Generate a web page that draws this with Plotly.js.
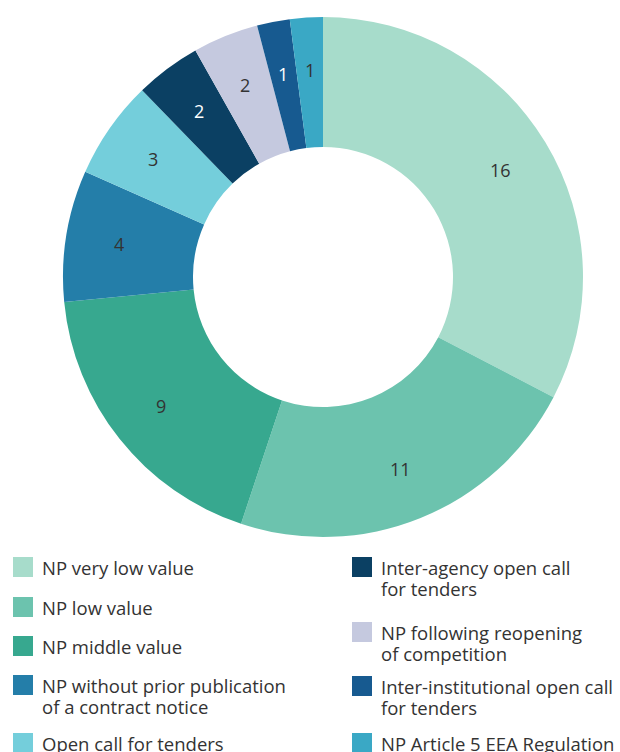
<!DOCTYPE html>
<html>
<head>
<meta charset="utf-8">
<script src="https://cdn.plot.ly/plotly-3.0.1.min.js"></script>
<style>html,body{margin:0;padding:0;background:#fff;}#chart{width:620px;height:752px;}</style>
</head>
<body>
<div id="chart"></div>
<script>
// ---- data ----
const labels = [
  "NP very low value",
  "NP low value",
  "NP middle value",
  "NP without prior publication<br>of a contract notice",
  "Open call for tenders",
  "Inter-agency open call<br>for tenders",
  "NP following reopening<br>of competition",
  "Inter-institutional open call<br>for tenders",
  "NP Article 5 EEA Regulation"
];
const values = [16, 11, 9, 4, 3, 2, 2, 1, 1];
const colors = ["#a7dccb", "#6cc3ae", "#37a88f", "#247ea9", "#74cedb", "#0b4063", "#c5c9df", "#175a90", "#3aa8c5"];
const textColors = ["#333333", "#333333", "#333333", "#333333", "#333333", "#ffffff", "#333333", "#ffffff", "#333333"];

// ---- layout constants ----
const W = 620, H = 752;
const cx = 323, cy = 277, r = 260, labelR = 207;
const legendCol = [0, 0, 0, 0, 0, 1, 1, 1, 1];
const colX = [13, 352];
const swatchTop = [557, 597, 636, 675, 733, 557, 622, 676, 733];
const sw = 20, lineH = 21;

const shapes = [], annotations = [];
const px = x => x / W, py = y => 1 - y / H;

// legend
labels.forEach((lab, i) => {
  const x0 = colX[legendCol[i]];
  const y0 = swatchTop[i];
  shapes.push({
    type: "rect", xref: "paper", yref: "paper",
    x0: px(x0), x1: px(x0 + sw), y0: py(y0 + sw), y1: py(y0),
    fillcolor: colors[i], line: {width: 0}
  });
  lab.split("<br>").forEach((line, k) => {
    annotations.push({
      xref: "paper", yref: "paper",
      x: px(x0 + 28), y: py(y0 + sw / 2 + k * lineH),
      xanchor: "left", yanchor: "middle", align: "left",
      showarrow: false, text: line, borderpad: 0,
      font: {family: "Open Sans", size: 18.5, color: "#333333"}
    });
  });
});

// slice value labels, placed at mid-angle of each slice (clockwise from top)
const total = values.reduce((a, b) => a + b, 0);
let cum = 0;
values.forEach((v, i) => {
  const ang = (cum + v / 2) / total * 2 * Math.PI;
  cum += v;
  annotations.push({
    xref: "paper", yref: "paper",
    x: px(cx + labelR * Math.sin(ang)), y: py(cy - labelR * Math.cos(ang)),
    xanchor: "center", yanchor: "middle", showarrow: false,
    text: String(v),
    font: {family: "Open Sans", size: 18, color: textColors[i]}
  });
});

const trace = {
  type: "pie",
  labels: labels,
  values: values,
  sort: false,
  direction: "clockwise",
  rotation: 0,
  hole: 0.5,
  textinfo: "none",
  marker: {colors: colors, line: {width: 0}},
  showlegend: false,
  hoverinfo: "none",
  domain: {x: [px(cx - r), px(cx + r)], y: [py(cy + r), py(cy - r)]}
};

Plotly.newPlot("chart", [trace], {
  width: W, height: H,
  margin: {l: 0, r: 0, t: 0, b: 0},
  paper_bgcolor: "#ffffff",
  showlegend: false,
  shapes: shapes,
  annotations: annotations,
  font: {family: "Open Sans", color: "#333333"}
}, {displayModeBar: false, staticPlot: true});
</script>
</body>
</html>
